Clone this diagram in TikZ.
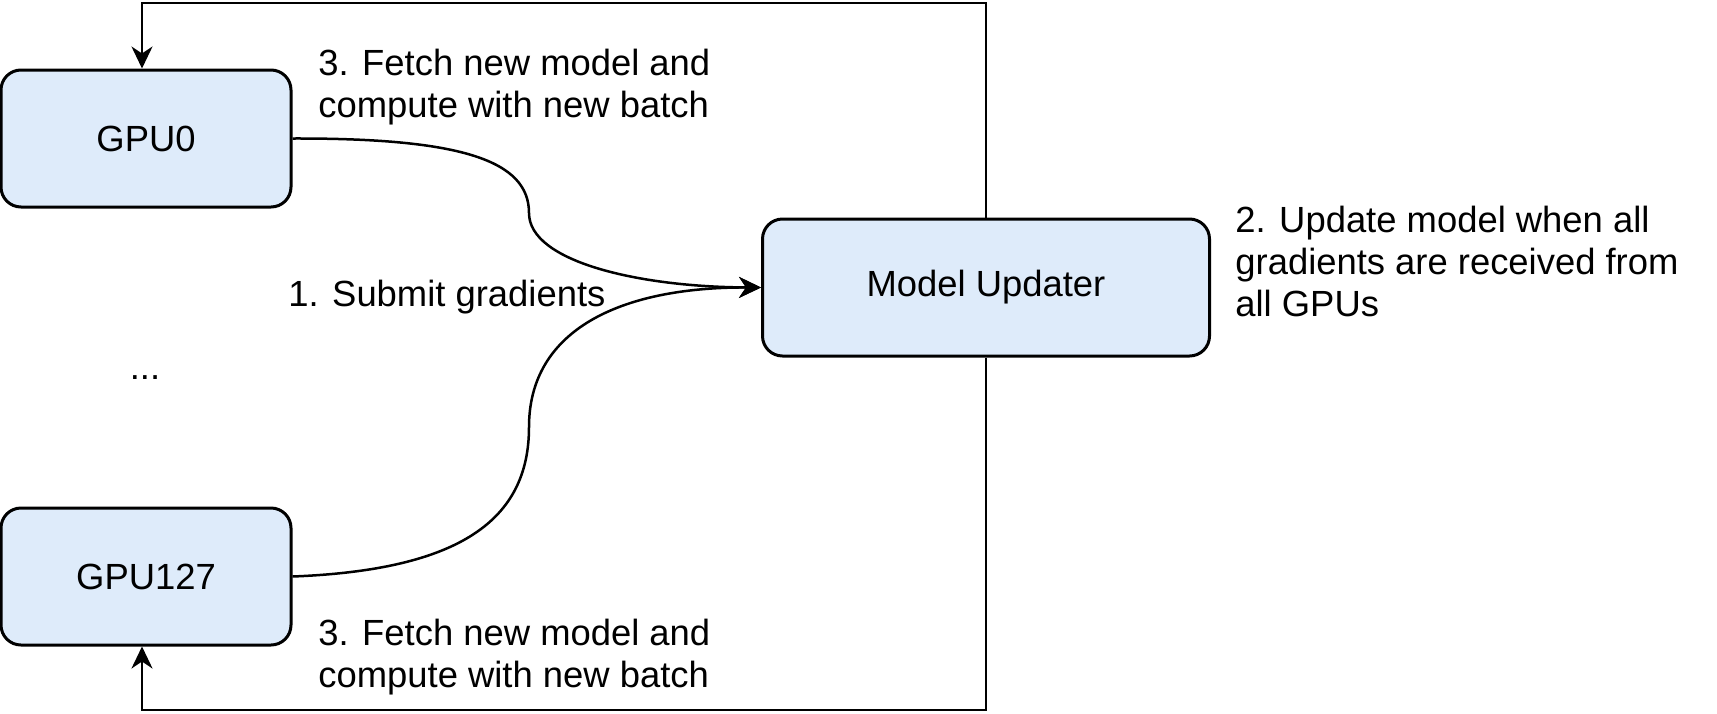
\documentclass[tikz,border=0pt]{standalone}
\usepackage{fontspec}
\setmainfont{Liberation Sans}
\usetikzlibrary{arrows.meta}
\definecolor{boxblue}{RGB}{222,235,250}
\tikzset{
  gpubox/.style={draw, line width=1.5pt, fill=boxblue, rounded corners=10pt,
    minimum width=145pt, minimum height=68.5pt, inner sep=0pt},
  lbl/.style={anchor=west, align=left, inner sep=0pt},
  conn/.style={line width=1.25pt, -{Stealth[length=11pt, width=10.5pt, inset=3.5pt]}}
}
\begin{document}
\begin{tikzpicture}[x=0.5pt, y=-0.5pt, font=\fontsize{18.2}{21}\selectfont]
    \useasboundingbox (0,0) rectangle (1717,713);
			\node[gpubox] (gpu0) at (146,138.5) {GPU0};
			\node[gpubox] (gpu127) at (146,576.5) {GPU127};
			\node[gpubox, minimum width=223.5pt] (upd) at (986,287.5) {Model Updater};
			\node[inner sep=0pt] (dots) at (145,378) {...};
			\node[lbl] (fetchtop) at (318,87) {3. Fetch new model and\\compute with new batch};
			\node[lbl] (fetchbot) at (318,657) {3. Fetch new model and\\compute with new batch};
			\node[lbl] (submit) at (288,297) {1. Submit gradients};
			\node[lbl] (update) at (1235,261) {2. Update model when all\\gradients are received from\\all GPUs};
			\coordinate (topmid) at (529,213);
			\coordinate (botmid) at (529,427);
			\draw[conn] (gpu0.east) .. controls (460,138) and (529,160) .. (topmid)
			   .. controls (529,262) and (640,287) .. (upd.west);
			\draw[conn] (gpu127.east) .. controls (460,570) and (529,520) .. (botmid)
			   .. controls (529,330) and (620,287) .. (upd.west);
			\draw[conn] (upd.north) |- (142,3) -- (gpu0.north -| 142,0);
			\draw[conn] (upd.south) |- (142,710) -- (gpu127.south -| 142,0);
		\end{tikzpicture}
\end{document}
